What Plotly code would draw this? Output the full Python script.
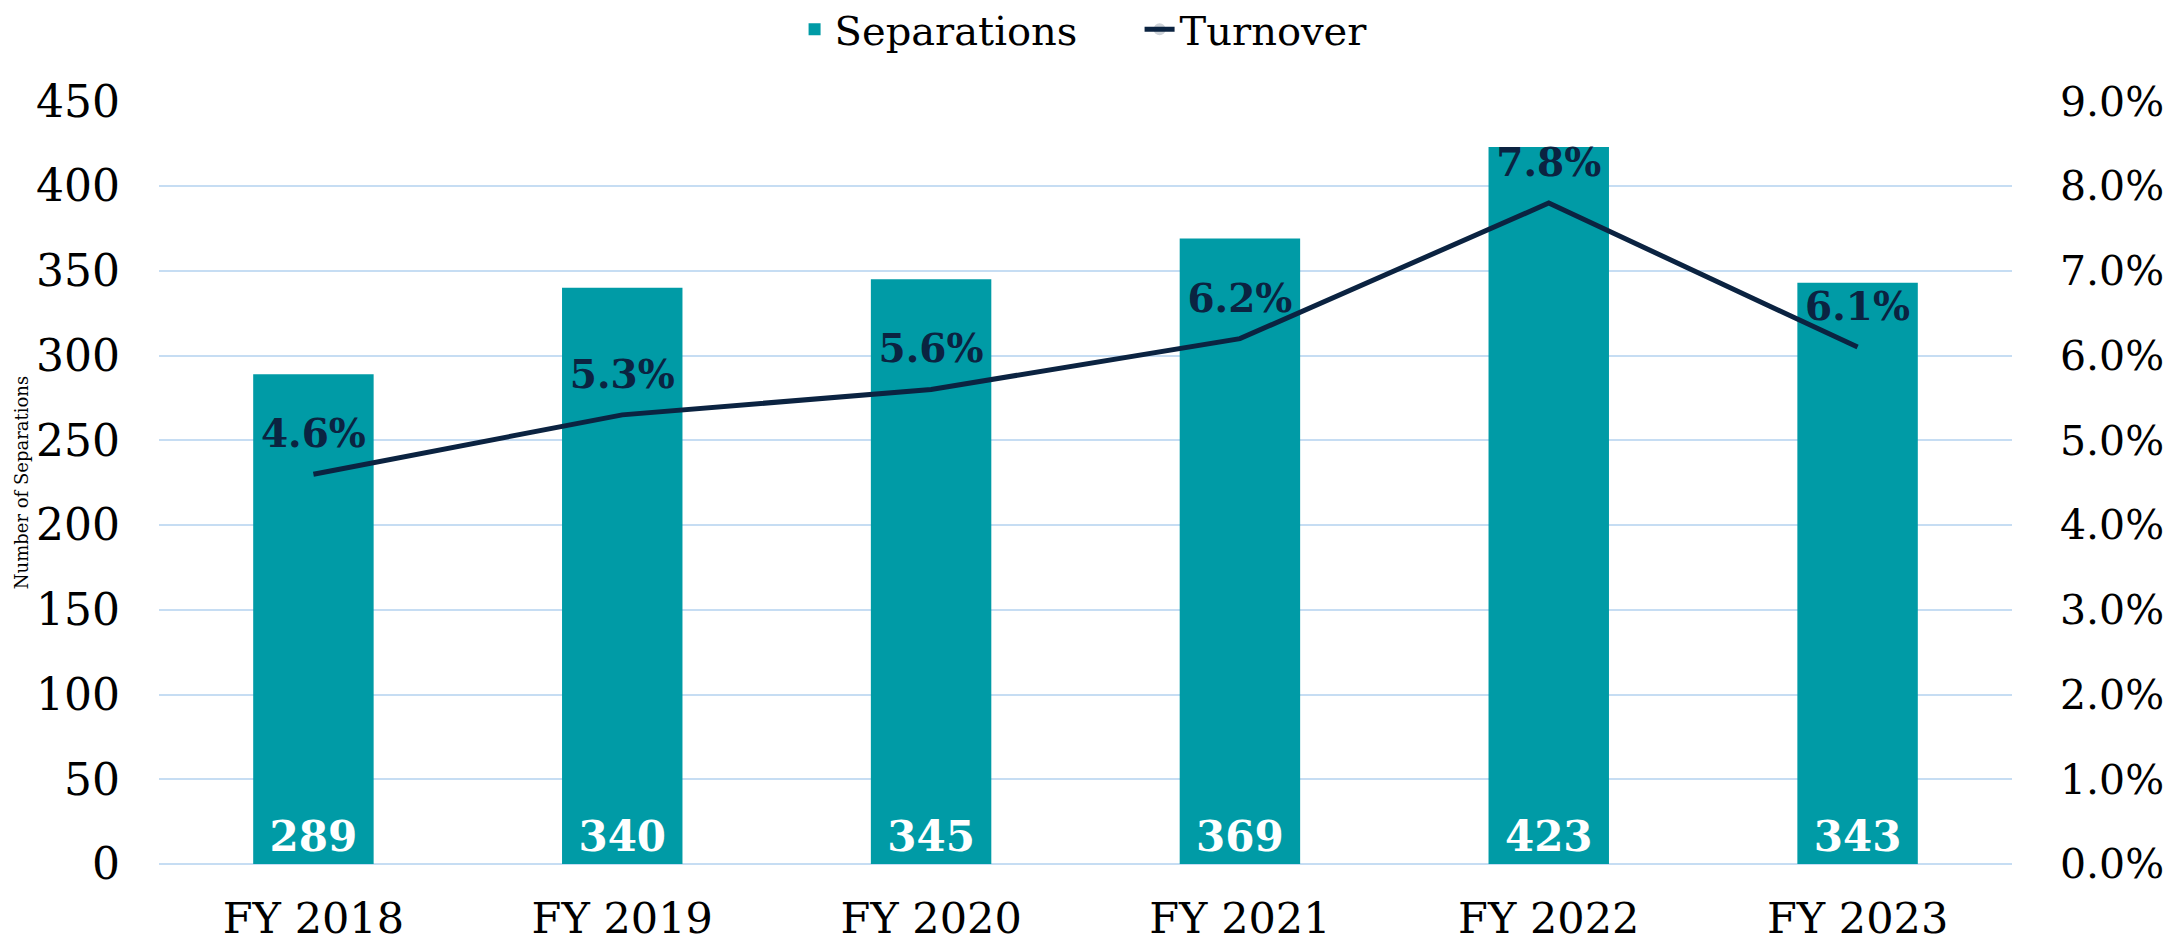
import plotly.graph_objects as go

# Data
years = ["FY 2018", "FY 2019", "FY 2020", "FY 2021", "FY 2022", "FY 2023"]
separations = [289, 340, 345, 369, 423, 343]
turnover = [0.046, 0.053, 0.056, 0.062, 0.078, 0.061]

left_ticks = [0, 50, 100, 150, 200, 250, 300, 350, 400, 450]
right_ticks = [0.0, 0.01, 0.02, 0.03, 0.04, 0.05, 0.06, 0.07, 0.08, 0.09]

FONT = "Georgia, 'DejaVu Serif', serif"
TEAL = "#009BA6"
NAVY = "#0B2341"
GRID = "#C6DDF3"

fig = go.Figure()

fig.add_trace(
    go.Bar(
        x=years,
        y=separations,
        name="Separations",
        marker=dict(color=TEAL, line=dict(width=0)),
        width=0.39,
        text=separations,
        textposition="inside",
        insidetextanchor="start",
        textfont=dict(family=FONT, size=42, color="white", weight="bold"),
        cliponaxis=False,
    )
)

# invisible markers just push the % labels a bit above the line
fig.add_trace(
    go.Scatter(
        x=years,
        y=turnover,
        name="Turnover",
        yaxis="y2",
        mode="lines+markers+text",
        line=dict(color=NAVY, width=5),
        marker=dict(size=26, opacity=0, color=NAVY),
        text=turnover,
        texttemplate="%{y:.1%}",
        textposition="top center",
        textfont=dict(family=FONT, size=39, color=NAVY, weight="bold"),
        cliponaxis=False,
    )
)

# page body adds an 8px offset, so the figure is a bit smaller than the window
fig.update_layout(
    width=2163,
    height=940,
    margin=dict(l=151, r=159, t=93, b=84, autoexpand=False),
    plot_bgcolor="white",
    paper_bgcolor="white",
    font=dict(family=FONT, size=43, color="black"),
    showlegend=True,
    legend=dict(
        orientation="h",
        x=0.343,
        xanchor="left",
        y=1.094,
        yanchor="middle",
        font=dict(family=FONT, size=40, color="black"),
        itemsizing="constant",
        entrywidth=300,
        tracegroupgap=0,
    ),
    xaxis=dict(
        showgrid=False,
        showline=False,
        ticks="",
        ticklabelstandoff=25,
        tickfont=dict(family=FONT, size=43),
    ),
    yaxis=dict(
        range=[0, 450.2],
        tickvals=left_ticks,
        showgrid=True,
        gridcolor=GRID,
        gridwidth=2,
        zeroline=True,
        zerolinecolor=GRID,
        zerolinewidth=2,
        showline=False,
        ticks="",
        ticklabelstandoff=38,
        tickfont=dict(family=FONT, size=44),
        title=dict(
            text="Number of Separations",
            font=dict(family=FONT, size=18),
            standoff=2,
        ),
    ),
    yaxis2=dict(
        range=[0, 0.09004],
        tickvals=right_ticks,
        tickformat=".1%",
        overlaying="y",
        side="right",
        showgrid=False,
        zeroline=False,
        showline=False,
        ticks="",
        ticklabelstandoff=47,
        tickfont=dict(family=FONT, size=41),
    ),
)

fig.write_html("out.html")
